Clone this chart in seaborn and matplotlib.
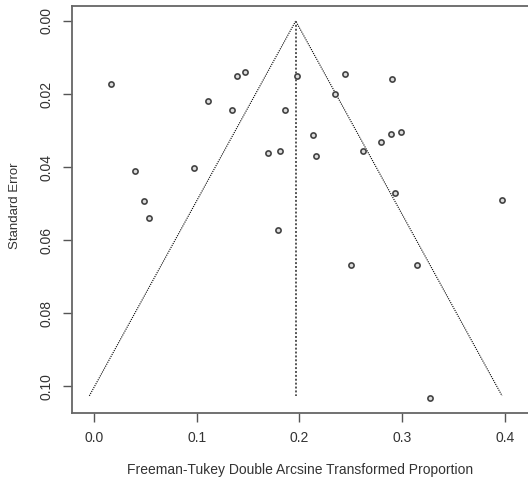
import numpy as np
import pandas as pd
import matplotlib
matplotlib.use('Agg')
import matplotlib.pyplot as plt
import seaborn as sns

# transformed proportions and their standard errors
ft_prop = [0.016, 0.040, 0.048, 0.053, 0.097, 0.111, 0.134, 0.139, 0.147,
           0.169, 0.181, 0.186, 0.198, 0.213, 0.216, 0.235, 0.244, 0.262,
           0.279, 0.289, 0.290, 0.299, 0.293, 0.397, 0.179, 0.250, 0.315,
           0.327]
std_err = [0.0172, 0.0410, 0.0493, 0.0540, 0.0403, 0.0218, 0.0245, 0.0151,
           0.0140, 0.0360, 0.0355, 0.0245, 0.0151, 0.0312, 0.0369, 0.0201,
           0.0145, 0.0355, 0.0330, 0.0309, 0.0158, 0.0304, 0.0470, 0.0491,
           0.0573, 0.0667, 0.0667, 0.1031]
pooled = 0.1963
se_max = 0.1026

x_ticks = [0.0, 0.1, 0.2, 0.3, 0.4]
y_ticks = [0.00, 0.02, 0.04, 0.06, 0.08, 0.10]

df = pd.DataFrame({'prop': ft_prop, 'se': std_err})

sns.set_style("white")
plt.rcParams['font.family'] = ['Liberation Sans', 'DejaVu Sans']

fig = plt.figure(figsize=(5.28, 4.84), dpi=100)
ax = fig.add_axes([72 / 528, 71 / 484, 1 - 72 / 528, (413 - 6) / 484])

# funnel (pseudo 95% limits) and centre line
ax.plot([pooled - 1.96 * se_max, pooled, pooled + 1.96 * se_max],
        [se_max, 0, se_max], color='black', lw=0.8, ls=(0, (1, 1)))
ax.plot([pooled, pooled], [0, se_max], color='#555555', lw=1.4, ls=(0, (1, 1)))

sns.scatterplot(data=df, x='prop', y='se', ax=ax, s=14, marker='o',
                facecolor='#dddddd', edgecolor='#444444', linewidth=1.2,
                legend=False, zorder=3)

ax.set_xlim(-0.0217, 0.4227)
ax.set_ylim(0.1073, -0.0041)
ax.set_xticks(x_ticks)
ax.set_xticklabels(['0.0', '0.1', '0.2', '0.3', '0.4'])
ax.set_yticks(y_ticks)
ax.set_yticklabels(['0.00', '0.02', '0.04', '0.06', '0.08', '0.10'],
                   rotation=90, va='center')

ax.tick_params(axis='both', direction='out', length=6.5, width=1.0,
               color='#555555', labelsize=10, labelcolor='#333333', pad=6.5,
               left=True, bottom=True)
for side in ['left', 'bottom', 'top']:
    ax.spines[side].set_color('#666666')
    ax.spines[side].set_linewidth(1.3)
ax.spines['right'].set_visible(False)

ax.set_xlabel('Freeman-Tukey Double Arcsine Transformed Proportion',
              fontsize=10, color='#333333', labelpad=13)
ax.set_ylabel('Standard Error', fontsize=9.5, color='#333333', labelpad=13)
ax.yaxis.set_label_coords(-0.112, (413 - 206) / 407)

fig.savefig('out.png', dpi=100)
plt.close(fig)
